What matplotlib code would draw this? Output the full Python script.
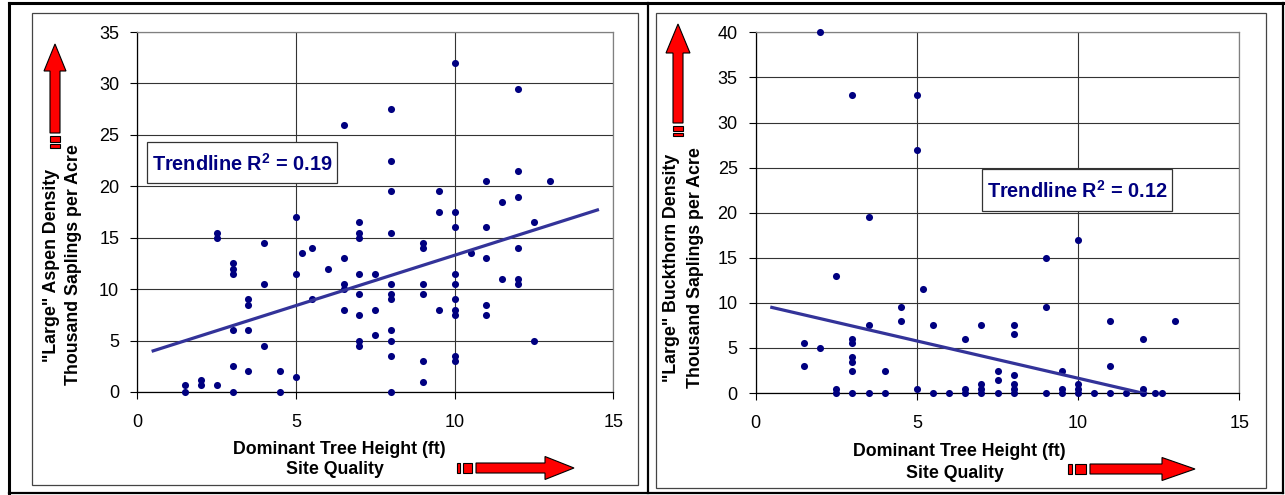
import matplotlib

matplotlib.use("Agg")
import matplotlib.pyplot as plt
from matplotlib.lines import Line2D
from matplotlib.patches import Polygon, Rectangle

plt.rcParams["font.family"] = ["Liberation Sans", "DejaVu Sans"]
plt.rcParams["mathtext.fontset"] = "custom"
plt.rcParams["mathtext.rm"] = "Liberation Sans"
plt.rcParams["mathtext.bf"] = "Liberation Sans:bold"

# ---- data -----------------------------------------------------------------
aspen_height = [1.5, 1.5, 2, 2, 2.5, 2.5, 2.5,
                3, 3, 3, 3, 3, 3,
                3.5, 3.5, 3.5, 3.5,
                4, 4, 4, 4.5, 4.5,
                5, 5, 5, 5.2, 5.5, 5.5, 6,
                6.5, 6.5, 6.5, 6.5, 6.5,
                7, 7, 7, 7, 7, 7, 7, 7,
                7.5, 7.5, 7.5,
                8, 8, 8, 8, 8, 8, 8, 8, 8, 8, 8,
                9, 9, 9, 9, 9, 9,
                9.5, 9.5, 9.5,
                10, 10, 10, 10, 10, 10, 10, 10, 10, 10,
                10.5,
                11, 11, 11, 11, 11,
                11.5, 11.5,
                12, 12, 12, 12, 12, 12,
                12.5, 12.5, 13]
aspen_density = [0.7, 0, 1.2, 0.7, 0.7, 15.5, 15.0,
                 12.5, 12.0, 11.5, 6.0, 2.5, 0,
                 9.0, 8.5, 6.0, 2.0,
                 14.5, 10.5, 4.5, 2.0, 0,
                 17.0, 11.5, 1.5, 13.5, 14.0, 9.0, 12.0,
                 26.0, 13.0, 10.5, 10.0, 8.0,
                 16.5, 15.5, 15.0, 11.5, 9.5, 7.5, 5.0, 4.5,
                 11.5, 8.0, 5.5,
                 27.5, 22.5, 19.5, 15.5, 10.5, 9.5, 9.0, 6.0, 5.0, 3.5, 0,
                 14.5, 14.0, 10.5, 9.5, 3.0, 1.0,
                 19.5, 17.5, 8.0,
                 32.0, 17.5, 16.0, 11.5, 10.5, 9.0, 8.0, 7.5, 3.5, 3.0,
                 13.5,
                 20.5, 16.0, 13.0, 8.5, 7.5,
                 18.5, 11.0,
                 29.5, 21.5, 19.0, 14.0, 11.0, 10.5,
                 16.5, 5.0, 20.5]
aspen_trend_x = [0.5, 14.5]
aspen_trend_y = [4.0, 17.7]
aspen_r2 = 0.19

buck_height = [1.5, 1.5, 2, 2, 2.5, 2.5, 2.5,
               3, 3, 3, 3, 3, 3, 3,
               3.5, 3.5, 3.5, 4, 4, 4.5, 4.5,
               5, 5, 5, 5.2, 5.5, 5.5, 6,
               6.5, 6.5, 6.5, 7, 7, 7, 7,
               7.5, 7.5, 7.5,
               8, 8, 8, 8, 8, 8,
               9, 9, 9, 9.5, 9.5, 9.5,
               10, 10, 10, 10, 10.5,
               11, 11, 11, 11.5,
               12, 12, 12, 12.4, 12.6, 13]
buck_density = [5.5, 3.0, 40.0, 5.0, 13.0, 0.5, 0,
                33.0, 6.0, 5.5, 4.0, 3.5, 2.5, 0,
                19.5, 7.5, 0, 2.5, 0, 9.5, 8.0,
                33.0, 27.0, 0.5, 11.5, 7.5, 0, 0,
                6.0, 0.5, 0, 7.5, 1.0, 0.5, 0,
                2.5, 1.5, 0,
                7.5, 6.5, 2.0, 1.0, 0.5, 0,
                15.0, 9.5, 0, 2.5, 0.5, 0,
                17.0, 1.0, 0.5, 0, 0,
                8.0, 3.0, 0, 0,
                6.0, 0.5, 0, 0, 0, 8.0]
buck_trend_x = [0.5, 14.5]
buck_trend_y = [9.5, -2.07]
buck_r2 = 0.12

W, H = 1285, 495
DOT = "#000080"
TREND = "#333399"
GRID = "#333333"
FRAME = "#808080"


def fx(p):
    return p / W


def fy(p):
    return 1 - p / H


def axes_at(fig, left, top, right, bottom):
    # pixel box -> figure fraction
    return fig.add_axes([fx(left), fy(bottom), fx(right) - fx(left), fy(top) - fy(bottom)])


def style_axes(ax, ymax):
    ax.set_xlim(0, 15)
    ax.set_ylim(0, ymax)
    ax.set_xticks([0, 5, 10, 15])
    ax.set_yticks(range(0, ymax + 1, 5))
    ax.grid(True, color=GRID, lw=0.8)
    ax.set_axisbelow(True)
    ax.tick_params(direction="out", length=5, width=0.8, labelsize=13, pad=8)
    ax.tick_params(axis="x", pad=11)
    for s in ("top", "right"):
        ax.spines[s].set_color(FRAME)
        ax.spines[s].set_linewidth(0.9)
    for s in ("left", "bottom"):
        ax.spines[s].set_color("black")
        ax.spines[s].set_linewidth(0.9)


def rect_px(fig, x0, y0, x1, y1, **kw):
    fig.add_artist(Rectangle((fx(x0), fy(y1)), fx(x1) - fx(x0), fy(y0) - fy(y1),
                             transform=fig.transFigure, **kw))


def poly_px(fig, pts, **kw):
    fig.add_artist(Polygon([(fx(x), fy(y)) for x, y in pts], closed=True,
                           transform=fig.transFigure, **kw))


def up_arrow(fig, cx, tip, head_base, shaft_bot, stripes, hw=11, sw=5):
    kw = dict(facecolor="#FF0000", edgecolor="black", lw=0.8)
    poly_px(fig, [(cx, tip), (cx + hw, head_base), (cx + sw, head_base),
                  (cx + sw, shaft_bot), (cx - sw, shaft_bot), (cx - sw, head_base),
                  (cx - hw, head_base)], **kw)
    for a, b in stripes:
        rect_px(fig, cx - sw, a, cx + sw, b, **kw)


def right_arrow(fig, cy, tip, head_base, shaft_start, stripes, hw=11.5, sw=5):
    kw = dict(facecolor="#FF0000", edgecolor="black", lw=0.8)
    poly_px(fig, [(tip, cy), (head_base, cy - hw), (head_base, cy - sw),
                  (shaft_start, cy - sw), (shaft_start, cy + sw), (head_base, cy + sw),
                  (head_base, cy + hw)], **kw)
    for a, b in stripes:
        rect_px(fig, a, cy - sw, b, cy + sw, **kw)


def trend_box(fig, x0, y0, x1, y1, r2):
    rect_px(fig, x0, y0, x1, y1, facecolor="white", edgecolor="#333333", lw=0.9, zorder=5)
    fig.text(fx((x0 + x1) / 2), fy((y0 + y1) / 2 + 1), r"Trendline R$^{\mathbf{2}}$ = " + f"{r2:.2f}",
             ha="center", va="center", fontsize=14.3, fontweight="bold", color=DOT, zorder=6)


fig = plt.figure(figsize=(W / 100, H / 100), dpi=100)

# outer table lines and panel frames
for xs, ys, lw in [((9, 9), (3, 493), 2.2), ((1283, 1283), (3, 493), 1.6),
                   ((9, 1283), (3, 3), 2.2), ((9, 1283), (493, 493), 1.6),
                   ((648, 648), (3, 493), 1.6)]:
    fig.add_artist(Line2D([fx(x) for x in xs], [fy(y) for y in ys],
                          transform=fig.transFigure, color="black", lw=lw))
rect_px(fig, 32, 13, 638, 485, facecolor="none", edgecolor="#444444", lw=0.9)
rect_px(fig, 656, 13, 1266, 488, facecolor="none", edgecolor="#444444", lw=0.9)

# left panel: aspen
ax1 = axes_at(fig, 137.3, 32, 613.3, 392)
style_axes(ax1, 35)
ax1.scatter(aspen_height, aspen_density, s=26, color=DOT, zorder=3, lw=0, clip_on=False)
ax1.plot(aspen_trend_x, aspen_trend_y, color=TREND, lw=2.3, zorder=4)

# right panel: buckthorn
ax2 = axes_at(fig, 755.7, 32.3, 1239.3, 393.1)
style_axes(ax2, 40)
ax2.scatter(buck_height, buck_density, s=26, color=DOT, zorder=3, lw=0, clip_on=False)
ax2.plot(buck_trend_x, buck_trend_y, color=TREND, lw=2.3, zorder=4)

trend_box(fig, 147, 142, 337, 183, aspen_r2)
trend_box(fig, 982, 169, 1172, 211, buck_r2)

lab = dict(fontsize=12.8, fontweight="bold", ha="center", va="center")
fig.text(fx(51.7), fy(265), '"Large" Aspen Density', rotation=90, **lab)
fig.text(fx(74), fy(265), "Thousand Saplings per Acre", rotation=90, **lab)
fig.text(fx(671.7), fy(268), '"Large" Buckthorn Density', rotation=90, **lab)
fig.text(fx(696), fy(268), "Thousand Saplings per Acre", rotation=90, **lab)
fig.text(fx(339), fy(449), "Dominant Tree Height (ft)", **lab)
fig.text(fx(335), fy(469), "Site Quality", **lab)
fig.text(fx(959), fy(452), "Dominant Tree Height (ft)", **lab)
fig.text(fx(955), fy(474), "Site Quality", **lab)

up_arrow(fig, 55, 44, 71, 133, [(136, 142), (144.5, 148)])
up_arrow(fig, 678, 24, 53, 123, [(126.5, 130.5), (132.5, 136)], hw=12)
right_arrow(fig, 468, 574, 545, 476, [(457, 460), (463, 472)])
right_arrow(fig, 469, 1195, 1162, 1090, [(1068, 1072), (1075, 1086)])

fig.savefig("out.png", dpi=100)
